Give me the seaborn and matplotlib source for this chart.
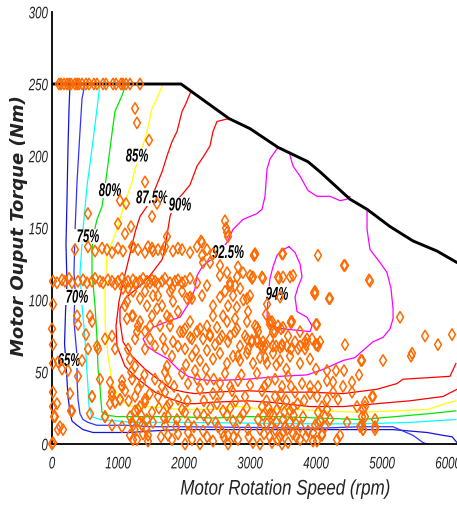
import numpy as np
import pandas as pd
import matplotlib
matplotlib.use("Agg")
import matplotlib.pyplot as plt
from matplotlib.patheffects import AbstractPathEffect
from matplotlib.transforms import Affine2D
from matplotlib.path import Path
import seaborn as sns

# ---------------- data ----------------
# peak torque envelope (rpm, Nm)
env_rpm = [0, 1955, 2682, 3000, 3424, 3879, 4061, 4515, 4773, 5121, 5470, 5833, 6136]
env_nm = [250, 250, 226, 219, 206, 196, 189, 170, 163, 151, 141, 134, 126]

# efficiency iso-lines (rpm, Nm)
eff65_rpm = [273, 258, 242, 227, 212, 227, 205, 190, 220, 242, 273, 303, 379, 470, 621, 833, 985, 1182, 1485,
             1939, 3000, 4061, 4667, 5167, 5424, 5682, 5924, 6061, 6136]
eff65_nm = [250, 233, 205, 170, 138, 112, 92, 70, 50, 33, 22, 16, 13, 10, 8, 8, 8, 8, 9,
            10, 10, 10, 10, 10, 9, 8, 6, 5, 1]

eff70_rpm = [500, 455, 424, 379, 348, 333, 348, 333, 379, 379, 394, 424, 470, 545, 682, 879, 1136, 1485, 1939,
             4061, 4667, 5167, 5318, 5470, 5621, 5682]
eff70_nm = [250, 240, 217, 182, 147, 119, 108, 85, 61, 45, 31, 21, 17, 15, 13, 13, 13, 12, 12,
            11, 12, 12, 9, 6, 1, 0]

eff75_rpm = [727, 682, 606, 530, 470, 424, 455, 500, 530, 545, 561, 606, 727, 985, 1227, 1485, 1939,
             4061, 4439, 4667, 5424, 6121]
eff75_nm = [250, 233, 205, 179, 149, 119, 96, 73, 50, 40, 26, 19, 17, 16, 15, 15, 15,
            14, 14, 14, 15, 17]

eff80_rpm = [1121, 1061, 955, 924, 879, 818, 758, 682, 636, 606, 606, 652, 682, 697, 727, 742, 758, 833, 985,
             1227, 1485, 1939, 2439, 2955, 3455, 4061, 4682, 5197, 5697, 6121]
eff80_nm = [250, 242, 231, 221, 205, 184, 165, 156, 147, 135, 119, 96, 73, 52, 40, 30, 22, 20, 19,
            19, 19, 19, 18, 19, 19, 18, 17, 19, 21, 23]

eff85_rpm = [1682, 1591, 1515, 1439, 1364, 1258, 1212, 1136, 1061, 985, 924, 833, 803, 803, 848, 924, 1000,
             1076, 1212, 1485, 1939, 2439, 2848, 3197, 3712, 4061, 4682, 5197, 5697, 5955, 6121]
eff85_nm = [250, 240, 233, 217, 205, 191, 182, 172, 161, 149, 142, 131, 108, 85, 61, 40, 33,
            29, 26, 26, 24, 24, 26, 24, 24, 23, 22, 23, 24, 28, 30]

eff875_rpm = [2106, 2015, 1970, 1894, 1818, 1742, 1667, 1561, 1439, 1333, 1258, 1182, 1091, 1015, 970, 985,
              1106, 1303, 1561, 1818, 2015, 2167, 2439, 2955, 3303, 3712, 3909, 4409, 4924, 5424, 5924, 6136]
eff875_nm = [245, 235, 231, 217, 210, 200, 189, 177, 165, 158, 147, 132, 115, 99, 82, 68,
             54, 45, 36, 31, 28, 28, 29, 30, 29, 27, 26, 26, 28, 30, 33, 38]

eff90_rpm = [2682, 2500, 2439, 2394, 2300, 2197, 2091, 1985, 1864, 1788, 1742, 1712, 1667, 1485, 1288, 1106,
             1030, 1030, 1076, 1212, 1409, 1606, 1818, 2015, 2167, 2439, 2955, 3455, 3909, 4409, 4924, 5227,
             5318, 5682, 6030, 6121]
eff90_nm = [226, 224, 217, 207, 200, 193, 180, 174, 168, 158, 145, 136, 128, 117, 108, 101,
            94, 85, 71, 61, 52, 45, 38, 36, 35, 36, 37, 36, 36, 35, 38, 42,
            45, 46, 47, 56]

eff925_rpm = [3424, 3303, 3258, 3227, 3182, 3106, 3000, 2894, 2742, 2652, 2500, 2288, 2197, 2167, 2091, 1939,
              1742, 1530, 1379, 1439, 1561, 1758, 1909, 2061, 2197, 2439, 2955, 3455, 3864, 4061, 4167, 4409,
              4591, 4712, 4864, 5015, 5121, 5167, 5167, 5136, 5076, 4970, 4818, 4773, 4773]
eff925_nm = [206, 198, 191, 172, 163, 160, 158, 156, 149, 140, 131, 124, 117, 108, 99, 88,
             85, 81, 73, 68, 64, 59, 52, 47, 45, 44, 45, 47, 48, 51, 53, 58,
             60, 65, 71, 74, 80, 87, 94, 108, 119, 126, 135, 149, 162]

eff925b_rpm = [3591, 3652, 3758, 3879, 4015, 4212, 4364, 4470, 4515]
eff925b_nm = [203, 193, 186, 176, 172, 172, 169, 170, 172]

eff94_rpm = [3591, 3500, 3409, 3348, 3303, 3273, 3258, 3303, 3500, 3909, 3939, 3864, 3712, 3682, 3727, 3788,
             3758, 3682, 3591]
eff94_nm = [137, 135, 131, 123, 115, 103, 89, 82, 80, 78, 82, 88, 92, 102, 109, 116,
            125, 133, 137]

# efficiency label anchors (rpm, Nm)
label_levels = [65, 70, 75, 80, 85, 87.5, 90, 92.5, 94]
label_rpm = [258, 379, 545, 879, 1288, 1515, 1939, 2667, 3409]
label_nm = [58, 102, 144, 176, 200, 171, 166, 133, 104]

# measured operating points (rpm, Nm)
ops_full_load_rpm = [106, 136, 182, 227, 258, 288, 348, 379, 409, 455, 515, 561, 636, 682, 773, 818, 924, 970,
                     1045, 1076, 1121, 1182, 1333]
ops_full_load_nm = [250] * len(ops_full_load_rpm)

ops_upper = [(1258, 233), (1288, 223), (1470, 211), (1409, 182), (1030, 169), (1121, 167), (1591, 167),
             (1515, 158), (545, 160), (1000, 153), (1106, 146), (1197, 151), (1742, 144), (2258, 141),
             (2621, 155), (2636, 150), (2652, 147), (2667, 144), (3061, 131)]

ops_band135 = [(348, 135), (545, 137), (652, 134), (758, 136), (833, 135), (909, 133), (1000, 136),
               (1076, 134), (1212, 137), (1303, 135), (1409, 133), (1515, 136), (1606, 135), (1712, 137),
               (1833, 134), (1909, 136), (1970, 135), (2091, 133), (2197, 137), (2348, 135), (2439, 132),
               (1227, 137), (1455, 137), (1530, 134), (1682, 134), (2273, 140), (2273, 131), (2288, 126),
               (3076, 132), (3485, 132)]

ops_band113_rpm = [15, 76, 152, 197, 258, 303, 394, 470, 530, 606, 652, 727, 773, 848, 909, 955, 1000, 1061,
                   1106, 1152, 1227, 1273, 1333, 1379, 1439, 1485, 1515, 1561, 1606, 1667, 1712, 1788, 1864,
                   1909, 1970, 2015, 2091, 2197]
ops_band113_nm = [113, 112, 114, 113, 115, 112, 113, 114, 112, 113, 115, 113, 112, 114, 113, 111, 113, 115,
                  112, 113, 114, 112, 113, 115, 113, 112, 114, 113, 111, 113, 115, 112, 113, 114, 112, 113,
                  115, 112]

ops_low_speed = [(0, 80), (15, 69), (15, 56), (91, 57), (152, 52), (15, 36), (15, 26), (45, 19), (91, 10),
                 (167, 10), (15, 1), (242, 51), (303, 23), (273, 35), (394, 47), (455, 58), (379, 89),
                 (394, 83), (576, 89), (515, 76), (545, 66), (606, 85), (682, 68), (727, 45), (879, 43),
                 (909, 33), (1061, 44), (1106, 37), (15, 97), (0, 0), (76, 28), (30, 19), (121, 12),
                 (288, 23), (576, 21), (606, 33), (803, 19), (909, 36), (955, 29), (879, 28), (1030, 31),
                 (1061, 40), (909, 13), (1061, 12)]

ops_mid = [(1076, 108), (1227, 106), (1136, 99), (1333, 101), (1439, 96), (1530, 103), (1591, 94),
           (1788, 106), (1833, 99), (1742, 89), (2045, 101), (2091, 102), (2273, 103), (2348, 110),
           (2439, 96), (2545, 102), (2621, 106), (2697, 110), (2773, 110), (2742, 103), (2667, 96),
           (2591, 89), (2439, 89), (2348, 82), (2500, 81), (2652, 85), (2773, 87), (2803, 80), (2697, 75),
           (2545, 73), (2394, 75), (2242, 80), (2091, 85), (1939, 78), (1788, 82), (1636, 82), (1485, 82),
           (1333, 85), (1227, 89), (1136, 87), (1288, 78), (1485, 73), (1682, 73), (1833, 71), (2955, 101),
           (2970, 92), (2955, 85), (3106, 81), (3197, 71), (3303, 83), (3500, 81), (3636, 85), (3985, 106),
           (3864, 73), (4061, 71), (3106, 73), (2955, 73), (2652, 119), (2545, 117), (2697, 112),
           (2803, 116), (3000, 117), (3030, 115), (3182, 116), (2394, 126), (2545, 124), (2818, 123),
           (2894, 119), (2850, 108), (2900, 100), (2800, 95),
           (1106, 96), (1212, 89), (1303, 82), (1409, 78), (1515, 89), (1667, 96), (1788, 87), (1909, 92),
           (2015, 80), (2121, 73), (1258, 73), (1152, 66), (909, 75), (955, 66), (803, 73), (697, 66),
           (1409, 66), (1561, 68), (1712, 66), (1818, 61), (1909, 68), (1152, 108), (1409, 106),
           (1606, 103), (1818, 108), (1970, 106), (2121, 101),
           (1182, 59), (1258, 54), (1212, 45), (1364, 43), (1258, 33), (1409, 31), (1303, 24), (1212, 15),
           (1364, 13), (1455, 6), (1227, 3), (1515, 22), (1606, 33), (1667, 40), (1712, 50), (1742, 54),
           (1758, 45), (1712, 36), (1742, 26), (1758, 19), (1712, 13), (1758, 6), (1818, 3), (1909, 31),
           (1894, 17), (2015, 22), (2061, 8), (909, 36), (955, 29), (803, 19), (606, 33),
           (1182, 19), (1258, 23), (1333, 26), (1409, 29), (1227, 13), (1333, 15), (1439, 17), (1182, 6),
           (1288, 3), (1379, 7), (1455, 2), (1030, 31), (1061, 40),
           (1985, 78), (2091, 74), (2197, 78), (2288, 73), (2394, 76), (2470, 69), (2576, 75), (2667, 71),
           (2773, 78), (2848, 68), (2924, 75), (3030, 71), (3121, 78), (3197, 67), (3303, 73), (3379, 78),
           (3485, 69), (3576, 75), (3682, 71), (3758, 78), (3833, 66), (3939, 73), (4030, 68), (2015, 66),
           (2121, 61), (2242, 58), (2348, 65), (2439, 59), (2545, 63), (2652, 56), (2742, 61), (2848, 58),
           (2955, 63), (3045, 56), (3152, 60), (3258, 56), (3348, 63), (3455, 58), (3606, 61), (3758, 56),
           (3909, 59),
           (1970, 49), (2061, 42), (2167, 51), (2242, 38), (2348, 45), (2439, 35), (2545, 42), (2621, 49),
           (2727, 37), (2818, 44), (2924, 33), (3000, 41), (3106, 49), (3182, 37), (3273, 43), (3379, 33),
           (3485, 40), (3576, 47), (3682, 36), (3788, 42), (3909, 35), (4030, 40),
           (1970, 24), (2061, 14), (2121, 3), (2197, 21), (2288, 9), (2364, 17), (2439, 2), (2515, 12),
           (2591, 23), (2667, 6), (2742, 16), (2818, 3), (2894, 21), (2970, 10), (3045, 1), (3121, 17),
           (3182, 26), (3212, 7), (3258, 14), (3303, 21), (3333, 1), (3379, 10), (3409, 24), (3455, 5),
           (3500, 17), (3530, 12), (3576, 1), (3606, 23), (3652, 7), (3697, 14), (3758, 3), (3803, 19),
           (3879, 9), (3955, 2), (4030, 14), (4091, 6), (1909, 7), (2015, 0), (2242, 0), (2667, 0),
           (3152, 0), (3485, 0),
           (3250, 30), (3350, 20), (3450, 28), (3550, 30), (3600, 15), (3300, 5), (3400, 15), (3500, 8),
           (3650, 25), (3700, 5), (3150, 10), (3200, 20), (2500, 28), (2600, 5), (2700, 25), (2800, 10),
           (2400, 25), (2300, 30)]

# heavily visited low-torque region
ops_dense = [(2050, 30), (2150, 12), (2200, 45), (2300, 20), (2350, 5), (2450, 45), (2480, 15), (2550, 35),
             (2580, 8), (2650, 20), (2700, 40), (2750, 5), (2780, 30), (2850, 18), (2870, 48), (2950, 25),
             (2980, 5), (2030, 55), (2180, 65), (2330, 52), (3220, 40), (3280, 25), (3320, 12), (3380, 45),
             (3420, 3), (3470, 35), (3520, 22), (3560, 10), (3620, 40), (3660, 20), (3720, 28), (3760, 12),
             (3820, 30), (3850, 5), (3230, 60), (3400, 55), (3550, 52), (1160, 30), (1200, 50), (1250, 10),
             (1300, 38), (1350, 20), (1400, 48), (1430, 10), (1480, 35), (1530, 15), (1560, 45), (1620, 25),
             (1650, 5), (1700, 18), (1780, 28), (1850, 40), (1880, 12)]

ops_high_speed = [(4015, 69), (4439, 69), (5652, 75), (5848, 69), (6061, 76), (5455, 63), (5015, 58),
                  (4697, 58), (4000, 52), (4167, 51), (4303, 51), (4424, 51), (4652, 48), (4545, 43),
                  (4409, 40), (4258, 43), (4167, 44), (3909, 40), (4258, 36), (4545, 36), (4848, 33),
                  (4742, 26), (4621, 26), (4333, 31), (4167, 31), (4015, 33), (4091, 26), (4167, 24),
                  (4030, 22), (4136, 19), (4212, 17), (4061, 16), (3985, 13), (4136, 12), (3955, 8),
                  (4091, 7), (4015, 2), (4364, 6), (4318, 3), (4470, 15), (4667, 12), (4712, 10),
                  (4894, 17), (4894, 10), (4697, 19),
                  (4439, 124), (4818, 113), (4212, 101), (3985, 104), (3652, 117), (3500, 116), (3606, 116),
                  (3424, 116), (4030, 131), (3076, 132), (5273, 88), (5439, 61), (4682, 58), (4000, 69),
                  (3848, 69), (3727, 66), (3621, 66), (3455, 67), (3348, 68), (3167, 68), (2970, 66),
                  (2818, 61), (3424, 82), (3303, 85), (3621, 85), (4000, 83),
                  (3061, 131), (3500, 132), (4424, 124), (4803, 114), (3045, 116), (3197, 115), (3439, 115),
                  (3970, 105), (4197, 101), (3000, 103), (3258, 97), (3455, 102), (3242, 90), (3076, 82),
                  (3333, 85), (3348, 78), (3470, 80), (3621, 84), (4015, 83), (3833, 71), (3758, 68),
                  (3561, 68), (3485, 68), (3394, 68), (3227, 68), (3106, 71), (3030, 72),
                  (4742, 29), (4864, 33), (4712, 24), (4742, 19), (4697, 13), (4712, 10), (4894, 12)]

x_ticks = [0, 1000, 2000, 3000, 4000, 5000, 6000]
y_ticks = [0, 50, 100, 150, 200, 250, 300]


# ---------------- helpers ----------------
class Stretch(AbstractPathEffect):
    """Scale a text's glyph outline about a chosen anchor of its own outline."""

    def __init__(self, sx=1.0, sy=1.0, hanchor="center", vanchor="center"):
        super().__init__()
        self.sx, self.sy = sx, sy
        self.hanchor, self.vanchor = hanchor, vanchor

    def draw_path(self, renderer, gc, tpath, affine, rgbFace=None):
        v = tpath.vertices
        if tpath.codes is not None and len(v):
            v = v[tpath.codes != Path.CLOSEPOLY]
        if len(v):
            x0, x1 = v[:, 0].min(), v[:, 0].max()
            y0, y1 = v[:, 1].min(), v[:, 1].max()
        else:
            x0 = x1 = y0 = y1 = 0.0
        ax_ = {"left": x0, "center": 0.5 * (x0 + x1), "right": x1}[self.hanchor]
        ay_ = {"bottom": y0, "center": 0.5 * (y0 + y1), "top": y1}[self.vanchor]
        t = Affine2D().translate(-ax_, -ay_).scale(self.sx, self.sy).translate(ax_, ay_)
        renderer.draw_path(gc, tpath, t + affine, rgbFace)


# ---------------- style ----------------
sns.set_theme(style="white")
plt.rcParams["font.family"] = ["Liberation Sans", "DejaVu Sans"]
plt.rcParams["xtick.direction"] = "in"
plt.rcParams["ytick.direction"] = "in"

W, H = 457, 506
fig = plt.figure(figsize=(W / 100, H / 100), dpi=100)
ax = fig.add_axes([52 / W, 61 / H, 405 / W, 432 / H])

line_specs = [
    (eff65_rpm, eff65_nm, "#1414d8"),
    (eff70_rpm, eff70_nm, "#3333ff"),
    (eff75_rpm, eff75_nm, "#00ffff"),
    (eff80_rpm, eff80_nm, "#00e600"),
    (eff85_rpm, eff85_nm, "#ffff00"),
    (eff875_rpm, eff875_nm, "#ff0000"),
    (eff90_rpm, eff90_nm, "#ff0000"),
    (eff925_rpm, eff925_nm, "#ff00ff"),
    (eff925b_rpm, eff925b_nm, "#ff00ff"),
    (eff94_rpm, eff94_nm, "#ff00ff"),
]
for xs, ys, col in line_specs:
    sns.lineplot(x=xs, y=ys, sort=False, estimator=None, color=col, lw=0.9, ax=ax, zorder=2)

# peak torque envelope
sns.lineplot(x=env_rpm, y=env_nm, sort=False, estimator=None, color="black", lw=2.1, ax=ax, zorder=3)

# efficiency labels
for lvl, xr, yn in zip(label_levels, label_rpm, label_nm):
    t = ax.text(xr, yn, f"{lvl:g}%", ha="center", va="center", fontsize=8.1, fontweight="bold",
                style="italic", color="black", zorder=4,
                bbox=dict(boxstyle="square,pad=0.25", fc="white", ec="none"))
    t.set_path_effects([Stretch(sy=1.65)])

# operating points
pts = []
pts += list(zip(ops_full_load_rpm, ops_full_load_nm))
pts += ops_upper + ops_band135
pts += list(zip(ops_band113_rpm, ops_band113_nm))
pts += ops_low_speed + ops_mid + ops_dense + ops_high_speed
ops = pd.DataFrame(pts, columns=["speed", "torque"])
sns.scatterplot(data=ops, x="speed", y="torque", marker="d", s=34, ax=ax, zorder=5, clip_on=False)
sc = ax.collections[-1]
sc.set_facecolor("none")
sc.set_edgecolor("#ff6a00")
sc.set_linewidth(1.1)

ax.set_xlim(0, 6136)
ax.set_ylim(0, 300)
ax.set_xticks(x_ticks)
ax.set_yticks(y_ticks)
ax.set_xticklabels([str(v) for v in x_ticks], fontsize=8.3, style="italic", color="#222222")
ax.set_yticklabels([str(v) for v in y_ticks], fontsize=8.3, style="italic", color="#222222")
ax.tick_params(axis="x", length=7, width=1, color="black", pad=8.5)
ax.tick_params(axis="y", length=5, width=1, color="black", pad=3)
for lbl in ax.get_xticklabels():
    lbl.set_path_effects([Stretch(sy=1.45, vanchor="top")])
for lbl in ax.get_yticklabels():
    lbl.set_path_effects([Stretch(sy=1.45, vanchor="center")])

for side in ["top", "right"]:
    ax.spines[side].set_visible(False)
for side in ["left", "bottom"]:
    ax.spines[side].set_color("black")
    ax.spines[side].set_linewidth(1.3)

ax.set_xlabel("Motor Rotation Speed (rpm)", fontsize=12.2, style="italic", color="#222222")
ax.xaxis.label.set_va("center")
ax.xaxis.set_label_coords((285 - 52) / 405, (445 - 490) / 432)
ax.xaxis.label.set_path_effects([Stretch(sy=1.25)])
ax.set_ylabel("Motor Ouput Torque (Nm)", fontsize=13.0, fontweight="bold", style="italic",
              color="#222222", family=["DejaVu Sans"])
ax.yaxis.label.set_va("center")
ax.yaxis.set_label_coords((19 - 52) / 405, (445 - 226) / 432)

fig.savefig("out.png", dpi=100, facecolor="white")
